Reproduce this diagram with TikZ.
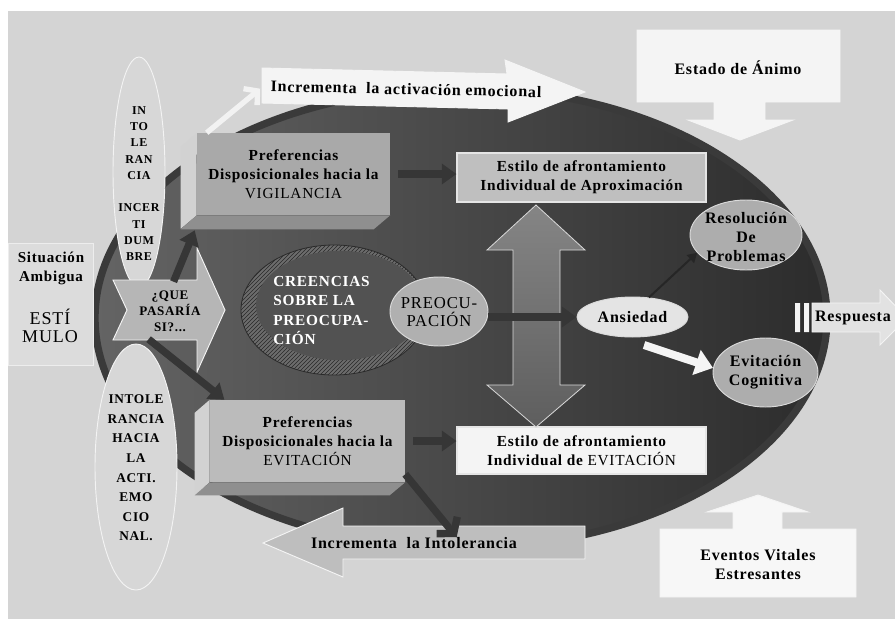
\documentclass[tikz,border=0pt]{standalone}
\usepackage{fontspec}
\setmainfont{Liberation Serif}[LetterSpace=5]
\usetikzlibrary{arrows.meta,patterns,shapes.geometric}

\definecolor{fondo}{HTML}{D4D4D4}
\definecolor{elipizq}{HTML}{646464}
\definecolor{elipder}{HTML}{2C2C2C}
\definecolor{borde}{HTML}{3A3A3A}
\definecolor{flecha}{HTML}{363636}
\definecolor{sitcol}{HTML}{DCDCDC}
\definecolor{elipclara}{HTML}{D7D7D7}
\definecolor{quecol}{HTML}{B6B6B6}
\definecolor{vigcol}{HTML}{A9A9A9}
\definecolor{evicol}{HTML}{BBBBBB}
\definecolor{cajalado}{HTML}{D2D2D2}
\definecolor{cajabajo}{HTML}{8F8F8F}
\definecolor{gris}{HTML}{BFBFBF}
\definecolor{blanco}{HTML}{F4F4F4}
\definecolor{ovalo}{HTML}{ADADAD}
\definecolor{preocol}{HTML}{B0B0B0}
\definecolor{anscol}{HTML}{E4E4E4}
\definecolor{anillo}{HTML}{6C6C6C}
\definecolor{rayas}{HTML}{2A2A2A}
\definecolor{interior}{HTML}{525252}
\definecolor{dobletop}{HTML}{858585}
\definecolor{doblemid}{HTML}{D6D6D6}
\definecolor{doblebot}{HTML}{5E5E5E}
\definecolor{linea}{HTML}{262626}
\definecolor{respcol}{HTML}{E2E2E2}
\definecolor{eventcol}{HTML}{F7F7F7}
\definecolor{intolcol}{HTML}{BEBEBE}

\begin{document}
\begin{tikzpicture}[x=0.75pt, y=-0.75pt,
  txt/.style={font=\bfseries\fontsize{11.5}{14.3}\selectfont, align=center, inner sep=0pt},
  txtg/.style={font=\bfseries\fontsize{12}{14.3}\selectfont, align=center, inner sep=0pt},
  elipse/.style={ellipse, draw=white!55!ovalo, line width=0.7pt, fill=ovalo, inner sep=0pt},
  plano/.style={rectangle, draw=white!60!gris, line width=0.8pt, inner sep=0pt, minimum width=186.75pt},
  bloque/.style={draw=white!75!fondo, line width=0.7pt},
  oscura/.style={draw=flecha, line width=5.5pt, -{Triangle[length=11pt,width=15pt]}}]
 % fondo
 \fill[white] (0,0) rectangle (895,619);
 \fill[fondo] (8,11) rectangle (895,619);
 \useasboundingbox (0,0) rectangle (895,619);
 % elipse grande
 \shade[left color=elipizq, right color=elipder] (461,318) ellipse [x radius=274.5pt, y radius=172.5pt];
 \draw[borde, line width=5.5pt] (461,318) ellipse [x radius=274.5pt, y radius=172.5pt];
 % estimulo
 \filldraw[fill=sitcol, draw=white!50!sitcol, line width=0.7pt] (8,243) rectangle (93,365);
 \node[txt, font=\bfseries\fontsize{11.3}{14.3}\selectfont] (situacion) at (51,268.5) {Situación\\Ambigua};
 \node[font=\fontsize{13.5}{13.5}\selectfont, align=center, inner sep=0pt] (estimulo) at (50,326) {ESTÍ\\MULO};
 % elipses de intolerancia
 \node[elipse, fill=elipclara, draw=white!70!elipclara, minimum width=39pt, minimum height=172.5pt] (incer) at (139,172) {};
 \node[font=\bfseries\fontsize{9}{12.2}\selectfont, align=center, inner sep=0pt] (incertxt) at (139,183.5)
   {IN\\TO\\LE\\RAN\\CIA\\[12.2pt]INCER\\TI\\DUM\\BRE};
 \node[elipse, fill=elipclara, draw=white!70!elipclara, minimum width=61.5pt, minimum height=184.5pt] (intolemo) at (136,467) {};
 \node[font=\bfseries\fontsize{10}{14.7}\selectfont, align=center, inner sep=0pt] (intolemotxt) at (136,468)
   {INTOLE\\RANCIA\\HACIA\\LA\\ACTI.\\EMO\\CIO\\NAL.};
 % que pasaria si
 \filldraw[bloque, fill=quecol] (113,280) -- (197,280) -- (197,248) -- (225,310) -- (197,372) -- (197,340) -- (113,340) -- (127,310) -- cycle;
 \node[font=\bfseries\fontsize{9.8}{12}\selectfont, align=center, inner sep=0pt] (que) at (170,311) {¿QUE\\PASARÍA\\SI?...};
 % cajas de preferencias
 \node[rectangle, fill=vigcol, inner sep=0pt, minimum width=144.75pt, minimum height=61.5pt, txt] (vig) at (293.5,174)
   {Preferencias\\Disposicionales hacia la\\\mdseries VIGILANCIA};
 \fill[cajalado] (vig.north west) -- ++(-16,14) -- ++(0,82) -- (vig.south west) -- cycle;
 \fill[cajabajo] (vig.south west) -- ++(-16,14) -- ++(193,0) -- (vig.south east) -- cycle;
 \node[rectangle, fill=evicol, inner sep=0pt, minimum width=146.25pt, minimum height=61.5pt, txt] (evi) at (307.5,441)
   {Preferencias\\Disposicionales hacia la\\\mdseries EVITACIÓN};
 \fill[cajalado] (evi.north west) -- ++(-15,13) -- ++(0,82) -- (evi.south west) -- cycle;
 \fill[cajabajo] (evi.south west) -- ++(-15,13) -- ++(195,0) -- (evi.south east) -- cycle;
 \coordinate (vigpie) at ([shift={(-2,15)}]vig.south west);
 \draw[oscura, shorten <=7pt] (que.north) -- (vigpie);
 \draw[oscura, shorten <=9pt] (que.south west) -- ([xshift=11pt]evi.north west);
 % activacion emocional
 \filldraw[bloque, fill=blanco] (262,68) -- (507,74) -- (505,60) -- (585,92) -- (508,122) -- (508,109) -- (262,103) -- cycle;
 \node[txtg, rotate=-1.2] (act) at (406,89) {Incrementa\ \ la activación emocional};
 \draw[white!90!gray, line width=4pt, shorten >=10pt, -{Straight Barb[length=7pt,width=16pt]}] ([xshift=7.5pt]vig.north west) -- (act.north west);
 % estado de animo
 \filldraw[bloque, fill=blanco] (637,30) -- (840,30) -- (840,102) -- (765,102) -- (765,120) -- (793,120) -- (740,140) -- (688,120) -- (714,120) -- (714,102) -- (637,102) -- cycle;
 \node[txtg] (estado) at (738,68) {Estado de Ánimo};
 % estilos de afrontamiento
 \node[plano, txt, fill=gris, minimum height=36.75pt] (aprox) at (581.5,177.5) {Estilo de afrontamiento\\Individual de Aproximación};
 \node[plano, txt, fill=blanco, minimum height=35.25pt] (evit) at (581.5,450.5) {Estilo de afrontamiento\\Individual de \mdseries EVITACIÓN};
 \draw[oscura, shorten <=6pt] (vig.east) -- (vig.east -| aprox.west);
 \draw[oscura, shorten <=6pt] (evi.east) -- (evi.east -| evit.west);
 % doble flecha
 \shadedraw[top color=dobletop, middle color=doblemid, bottom color=doblebot, draw=white!70!gray, line width=0.6pt]
   (536,205) -- (585,250) -- (560,250) -- (560,385) -- (585,385) -- (536,427) -- (487,385) -- (513,385) -- (513,250) -- (487,250) -- cycle;
 % creencias
 \filldraw[fill=anillo, draw=rayas, line width=0.6pt] (334,310) ellipse [x radius=69.75pt, y radius=48.75pt];
 \fill[pattern=north east lines, pattern color=rayas] (334,310) ellipse [x radius=69.75pt, y radius=48.75pt];
 \fill[interior] (340,305.5) ellipse [x radius=63pt, y radius=41pt];
 \node[font=\bfseries\fontsize{11.5}{14.3}\selectfont, text=white, align=left, inner sep=0pt, anchor=west] (creencias) at (273,310.5)
   {CREENCIAS\\SOBRE LA\\PREOCUPA-\\CIÓN};
 % preocupacion y respuestas
 \node[elipse, fill=preocol, minimum width=73.5pt, minimum height=51.75pt] (preo) at (439,311.5) {};
 \node[font=\fontsize{12.5}{13.5}\selectfont, align=center, inner sep=0pt] (preotxt) at (439,312) {PREOCU-\\PACIÓN};
 \node[elipse, fill=anscol, minimum width=83.25pt, minimum height=30pt, txtg] (ans) at (632.5,317) {Ansiedad};
 \node[elipse, minimum width=84pt, minimum height=52.5pt] (res) at (746,235) {};
 \node[txtg] (restxt) at (746,237) {Resolución\\De\\Problemas};
 \node[elipse, minimum width=78.75pt, minimum height=51.75pt] (evcog) at (765.5,372.5) {};
 \node[txtg] (evcogtxt) at (765.5,372.5) {Evitación\\Cognitiva};
 \draw[oscura] (preo.east |- ans.west) -- (ans.west);
 \draw[linea, line width=1.5pt, -{Triangle[length=7pt,width=8pt]}] (ans.50) -- (res.200);
 \draw[white!92!gray, line width=6pt, -{Triangle[length=13pt,width=19pt]}] ([yshift=-6pt]ans.300) -- (evcog.175);
 % respuesta
 \filldraw[bloque, fill=respcol] (812,303) -- (880,303) -- (880,290) -- (907,318) -- (880,345) -- (880,332) -- (812,332) -- cycle;
 \fill[blanco] (795,303) rectangle (800,332) (804,303) rectangle (809,332);
 \node[txtg] (resp) at (853,318) {Respuesta};
 % eventos vitales
 \filldraw[bloque, fill=eventcol] (660,529) -- (733,529) -- (733,512) -- (707,512) -- (758,495) -- (808,512) -- (782,512) -- (782,529) -- (856,529) -- (856,597) -- (660,597) -- cycle;
 \node[txtg] (eventos) at (758,564.5) {Eventos Vitales\\Estresantes};
 % intolerancia
 \filldraw[bloque, fill=intolcol] (585,526) -- (343,526) -- (343,508) -- (263,543) -- (343,577) -- (343,559) -- (585,559) -- cycle;
 \node[txtg] (intol) at (414,543) {Incrementa\ \ la Intolerancia};
 \draw[draw=flecha, line width=5.5pt, -{Straight Barb[length=8pt,width=20pt]}] ([yshift=6pt]evi.south east) -- ([xshift=32pt]intol.north);
\end{tikzpicture}
\end{document}
